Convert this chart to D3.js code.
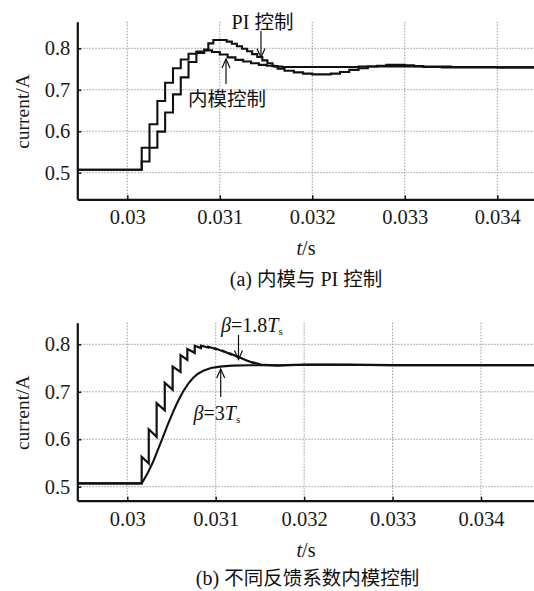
<!DOCTYPE html>
<html>
<head>
<meta charset="utf-8">
<script src="https://cdn.jsdelivr.net/npm/d3@7"></script>
<style>
  body { margin: 0; background: #fff; }
  svg { display: block; }
</style>
</head>
<body>
<svg id="chart" width="534" height="591"></svg>
<script>
// ---- tick values shared by both panels ----
const xTicks = [0.03, 0.031, 0.032, 0.033, 0.034];
const xTickLabels = ["0.03", "0.031", "0.032", "0.033", "0.034"];
const yTicks = [0.5, 0.6, 0.7, 0.8];
const yTickLabels = ["0.5", "0.6", "0.7", "0.8"];

// ---- panel (a): internal-model control vs PI control (sampled, held between samples) ----
const imcT = [0.0294, 0.030156, 0.030240, 0.030325, 0.030409, 0.030494, 0.030578, 0.030662,
              0.030747, 0.030831, 0.030916, 0.031000, 0.031085, 0.031169, 0.031253, 0.031338,
              0.031422, 0.031507, 0.031591, 0.031675, 0.03180, 0.0320, 0.0325, 0.0330, 0.0335,
              0.0340, 0.0347];
const imcI = [0.507, 0.560, 0.617, 0.673, 0.717, 0.752, 0.773, 0.787,
              0.792, 0.795, 0.791, 0.785, 0.778, 0.772, 0.768, 0.764,
              0.760, 0.758, 0.756, 0.755, 0.755, 0.755, 0.756, 0.756, 0.755,
              0.754, 0.754];

const piT = [0.0294, 0.030156, 0.030240, 0.030325, 0.030409, 0.030494, 0.030578, 0.030662,
             0.030747, 0.030831, 0.030876, 0.030930, 0.031075, 0.031130, 0.031185, 0.031240,
             0.031295, 0.031350, 0.031405, 0.031460, 0.031515, 0.031570, 0.031625, 0.031700,
             0.031800, 0.031900, 0.032000, 0.032100, 0.032200, 0.032300, 0.032400, 0.032500,
             0.032600, 0.032700, 0.032800, 0.032900, 0.033000, 0.033100, 0.033200, 0.033400,
             0.0347];
const piI = [0.507, 0.527, 0.560, 0.599, 0.645, 0.689, 0.730, 0.767,
             0.789, 0.797, 0.812, 0.820, 0.816, 0.811, 0.805, 0.799,
             0.793, 0.786, 0.779, 0.771, 0.764, 0.757, 0.751, 0.746,
             0.742, 0.739, 0.737, 0.737, 0.739, 0.743, 0.748, 0.752,
             0.756, 0.758, 0.760, 0.760, 0.759, 0.757, 0.755, 0.754,
             0.754];

// ---- panel (b): internal-model control with feedback coefficient beta ----
// beta = 1.8Ts: jump at each sample instant, then decays until the next one
const sawT      = [0.030163, 0.030243, 0.030332, 0.030424, 0.030513, 0.030602, 0.030679, 0.030763,
                   0.030833, 0.030917, 0.031001, 0.031085, 0.031169, 0.031253, 0.031337, 0.031421];
const sawTop    = [0.563, 0.621, 0.676, 0.719, 0.753, 0.777, 0.790, 0.797,
                   0.797, 0.795, 0.791, 0.786, 0.780, 0.774, 0.767, 0.762];
const sawBottom = [0.549, 0.605, 0.661, 0.704, 0.742, 0.767, 0.782, 0.792,
                   0.793, 0.790, 0.785, 0.779, 0.773, 0.767, 0.761, 0.758];
const sawStartT = 0.0294, sawStartI = 0.507;
const sawTailT = [0.03150, 0.03160, 0.03170, 0.03180, 0.03200, 0.03250, 0.03300, 0.03400, 0.03470];
const sawTailI = [0.757, 0.756, 0.755, 0.756, 0.757, 0.757, 0.756, 0.756, 0.756];

// beta = 3Ts
const b3T = [0.0294, 0.030163, 0.030183, 0.030234, 0.030291, 0.030347, 0.030404, 0.030460,
             0.030517, 0.030573, 0.030630, 0.030686, 0.030743, 0.030799, 0.030867, 0.030947,
             0.031048, 0.031184, 0.031387, 0.031726, 0.032178, 0.033083, 0.0347];
const b3I = [0.507, 0.507, 0.513, 0.530, 0.552, 0.578, 0.605, 0.632,
             0.657, 0.680, 0.700, 0.716, 0.729, 0.738, 0.745, 0.750,
             0.753, 0.755, 0.756, 0.756, 0.757, 0.756, 0.756];

// ---- layout ----
const SERIF = '"Liberation Serif", "Times New Roman", serif';
const CJK = '"Noto Sans CJK SC", sans-serif';

const svg = d3.select("#chart");

const panels = [
  { id: "a", left: 77.3, right: 534, top: 21.7, bottom: 199.3,
    xDomain: [0.0294595, 0.0343968], yDomain: [0.43585, 0.86415] },
  { id: "b", left: 77.3, right: 534, top: 322.7, bottom: 500.7,
    xDomain: [0.029435, 0.034599], yDomain: [0.47051, 0.84551] }
];

// writes a label made of [text, kind] runs; kind: "r" roman, "i" italic, "c" CJK, "s" subscript
function richText(g, x, y, runs, anchor) {
  const t = g.append("text").attr("x", x).attr("y", y)
    .attr("text-anchor", anchor || "start")
    .style("font-family", SERIF).style("font-size", "20px").attr("fill", "#111");
  let shifted = 0;
  runs.forEach(([s, kind]) => {
    const ts = t.append("tspan").text(s);
    if (kind === "c") ts.style("font-family", CJK).style("font-size", "19.5px");
    if (kind === "i") ts.style("font-style", "italic");
    if (kind === "s") { ts.style("font-size", "11px").attr("dy", 3); shifted += 3; }
    else if (shifted) { ts.attr("dy", -shifted); shifted = 0; }
  });
  return t;
}

function drawPanel(p) {
  const x = d3.scaleLinear().domain(p.xDomain).range([p.left, p.right]);
  const y = d3.scaleLinear().domain(p.yDomain).range([p.bottom, p.top]);
  const g = svg.append("g");

  // dotted grid
  g.append("g").selectAll("line").data(xTicks).join("line")
    .attr("x1", d => x(d)).attr("x2", d => x(d))
    .attr("y1", p.top).attr("y2", p.bottom)
    .attr("stroke", "#9a9a9a").attr("stroke-width", 1).attr("stroke-dasharray", "1.5,1.5");
  g.append("g").selectAll("line").data(yTicks).join("line")
    .attr("x1", p.left).attr("x2", p.right)
    .attr("y1", d => y(d)).attr("y2", d => y(d))
    .attr("stroke", "#9a9a9a").attr("stroke-width", 1).attr("stroke-dasharray", "1.5,1.5");

  // axes with inward ticks
  const xAxis = d3.axisBottom(x).tickValues(xTicks)
    .tickFormat((d, i) => xTickLabels[i]).tickSizeInner(-4).tickSizeOuter(0).tickPadding(10.5);
  const yAxis = d3.axisLeft(y).tickValues(yTicks)
    .tickFormat((d, i) => yTickLabels[i]).tickSizeInner(-4).tickSizeOuter(0).tickPadding(7);

  const gx = g.append("g").attr("transform", `translate(0,${p.bottom})`).call(xAxis);
  const gy = g.append("g").attr("transform", `translate(${p.left},0)`).call(yAxis);
  [gx, gy].forEach(a => {
    a.attr("font-family", null).attr("font-size", null);
    a.select(".domain").attr("stroke", "#111").attr("stroke-width", 2.2);
    a.selectAll(".tick line").attr("stroke", "#111").attr("stroke-width", 1.5);
    a.selectAll(".tick text").style("font-family", SERIF).style("font-size", "20.5px").attr("fill", "#1a1a1a");
  });

  // y-axis title
  g.append("text")
    .attr("transform", `translate(22,${(p.top + p.bottom) / 2 + 1}) rotate(-90)`)
    .attr("text-anchor", "middle").attr("dominant-baseline", "central")
    .style("font-family", SERIF).style("font-size", "19.5px").attr("fill", "#1a1a1a")
    .text("current/A");

  // x-axis title: t/s
  richText(g, 306, p.bottom + 56, [["t", "i"], ["/s", "r"]], "middle");

  // clip for the curves
  const clipId = "clip-" + p.id;
  svg.append("clipPath").attr("id", clipId).append("rect")
    .attr("x", p.left).attr("y", p.top - 10)
    .attr("width", p.right - p.left).attr("height", p.bottom - p.top + 10);

  return { g, x, y, clipId };
}

function arrow(g, x0, y0, x1, y1) {
  // shaft from (x0,y0) to tip (x1,y1) with an open V head at the tip
  const dir = Math.sign(y1 - y0);
  g.append("line").attr("x1", x0).attr("y1", y0).attr("x2", x1).attr("y2", y1)
    .attr("stroke", "#111").attr("stroke-width", 1.2);
  g.append("path")
    .attr("d", `M${x1 - 4},${y1 - dir * 9} L${x1},${y1} L${x1 + 4},${y1 - dir * 9}`)
    .attr("fill", "none").attr("stroke", "#111").attr("stroke-width", 1.2);
}

// ---- panel (a) ----
{
  const { g, x, y, clipId } = drawPanel(panels[0]);
  const line = d3.line().x(d => x(d[0])).y(d => y(d[1])).curve(d3.curveStepAfter);
  const curves = g.append("g").attr("clip-path", `url(#${clipId})`);
  curves.append("path").datum(d3.zip(piT, piI)).attr("d", line)
    .attr("fill", "none").attr("stroke", "#111").attr("stroke-width", 2.1);
  curves.append("path").datum(d3.zip(imcT, imcI)).attr("d", line)
    .attr("fill", "none").attr("stroke", "#111").attr("stroke-width", 2.1);

  richText(g, 231.6, 29.3, [["PI ", "r"], ["控制", "c"]]);
  arrow(g, 261, 31, 261, y(0.778));

  richText(g, 188, 105.5, [["内模控制", "c"]]);
  arrow(g, 226, 84, 226, y(0.774));

  richText(g, 306, 285.5, [["(a) ", "r"], ["内模与", "c"], [" PI ", "r"], ["控制", "c"]], "middle");
}

// ---- panel (b) ----
{
  const { g, x, y, clipId } = drawPanel(panels[1]);
  const line = d3.line().x(d => x(d[0])).y(d => y(d[1]));

  // sawtooth path: flat start, then jump/decay per sample, then settled tail
  const saw = [[sawStartT, sawStartI]];
  sawT.forEach((t, i) => {
    saw.push([t, i === 0 ? sawStartI : sawBottom[i - 1]]);
    saw.push([t, sawTop[i]]);
  });
  saw.push([sawTailT[0], sawBottom[sawBottom.length - 1]]);
  sawTailT.forEach((t, i) => saw.push([t, sawTailI[i]]));

  const curves = g.append("g").attr("clip-path", `url(#${clipId})`);
  curves.append("path").datum(saw).attr("d", line)
    .attr("fill", "none").attr("stroke", "#111").attr("stroke-width", 2.2)
    .attr("stroke-linejoin", "miter");
  curves.append("path").datum(d3.zip(b3T, b3I)).attr("d", line)
    .attr("fill", "none").attr("stroke", "#111").attr("stroke-width", 2.1);

  richText(g, 221, 331.5, [["β", "i"], ["=1.8", "r"], ["T", "i"], ["s", "s"]]);
  arrow(g, 238.5, 335, 238.5, y(0.768));

  richText(g, 193.5, 420, [["β", "i"], ["=3", "r"], ["T", "i"], ["s", "s"]]);
  arrow(g, 220.7, 397, 220.7, y(0.748));

  richText(g, 307.5, 584.5, [["(b) ", "r"], ["不同反馈系数内模控制", "c"]], "middle");
}
</script>
</body>
</html>
